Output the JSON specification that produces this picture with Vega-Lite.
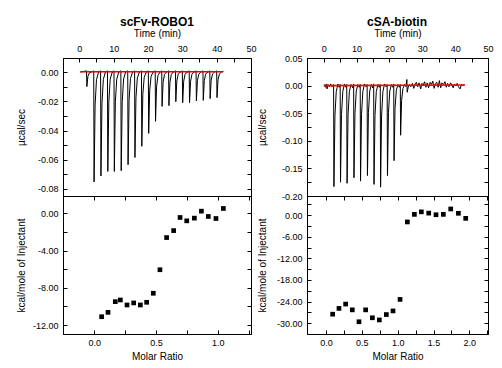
{
  "$schema": "https://vega.github.io/schema/vega-lite/v6.json",
  "background": "white",
  "padding": {"left": 15, "top": 15, "right": 5, "bottom": 2},
  "config": {
    "font": "Liberation Sans",
    "view": {"stroke": "black", "strokeWidth": 1},
    "axis": {
      "grid": false, "domainColor": "black", "tickColor": "black", "labelColor": "black", "titleColor": "black",
      "labelFont": "Liberation Sans", "titleFont": "Liberation Sans", "labelFontSize": 9, "titleFontSize": 10,
      "titleFontWeight": "normal", "tickSize": -4, "labelPadding": 9, "minExtent": 0, "labelFlush": false, "labelOverlap": false
    },
    "title": {"font": "Liberation Sans", "fontSize": 12, "fontWeight": "bold", "color": "black", "anchor": "middle"}
  },
  "datasets": {
    "rawL": [
      {"t":0.3,"v":0},{"t":2.1,"v":0.0008},{"t":2.2,"v":-0.010},{"t":2.5,"v":-0.003},{"t":2.9,"v":-0.0007},{"t":3.5,"v":0},
      {"t":4.2,"v":0.0008},{"t":4.3,"v":-0.0752},{"t":4.6,"v":-0.0226},{"t":5.0,"v":-0.0053},{"t":5.6,"v":0},
      {"t":6.2,"v":0.0008},{"t":6.3,"v":-0.0711},{"t":6.6,"v":-0.0213},{"t":7.0,"v":-0.005},{"t":7.6,"v":0},
      {"t":8.2,"v":0.0008},{"t":8.3,"v":-0.068},{"t":8.6,"v":-0.0204},{"t":9.0,"v":-0.0048},{"t":9.6,"v":0},
      {"t":10.1,"v":0.0008},{"t":10.2,"v":-0.068},{"t":10.5,"v":-0.0204},{"t":10.9,"v":-0.0048},{"t":11.5,"v":0},
      {"t":12.1,"v":0.0008},{"t":12.2,"v":-0.0675},{"t":12.5,"v":-0.0203},{"t":12.9,"v":-0.0047},{"t":13.5,"v":0},
      {"t":14.1,"v":0.0008},{"t":14.2,"v":-0.0634},{"t":14.5,"v":-0.019},{"t":14.9,"v":-0.0044},{"t":15.5,"v":0},
      {"t":16.1,"v":0.0008},{"t":16.2,"v":-0.0585},{"t":16.5,"v":-0.0176},{"t":16.9,"v":-0.0041},{"t":17.5,"v":0},
      {"t":18.1,"v":0.0008},{"t":18.2,"v":-0.0508},{"t":18.5,"v":-0.0152},{"t":18.9,"v":-0.0036},{"t":19.5,"v":0},
      {"t":20.1,"v":0.0008},{"t":20.2,"v":-0.042},{"t":20.5,"v":-0.0126},{"t":20.9,"v":-0.0029},{"t":21.5,"v":0},
      {"t":22.1,"v":0.0008},{"t":22.2,"v":-0.0337},{"t":22.5,"v":-0.0101},{"t":22.9,"v":-0.0024},{"t":23.5,"v":0},
      {"t":24.0,"v":0.0008},{"t":24.1,"v":-0.0235},{"t":24.4,"v":-0.0071},{"t":24.8,"v":-0.0016},{"t":25.4,"v":0},
      {"t":26.0,"v":0.0008},{"t":26.1,"v":-0.023},{"t":26.4,"v":-0.0069},{"t":26.8,"v":-0.0016},{"t":27.4,"v":0},
      {"t":28.0,"v":0.0008},{"t":28.1,"v":-0.0203},{"t":28.4,"v":-0.0061},{"t":28.8,"v":-0.0014},{"t":29.4,"v":0},
      {"t":30.0,"v":0.0008},{"t":30.1,"v":-0.021},{"t":30.4,"v":-0.0063},{"t":30.8,"v":-0.0015},{"t":31.4,"v":0},
      {"t":32.0,"v":0.0008},{"t":32.1,"v":-0.021},{"t":32.4,"v":-0.0063},{"t":32.8,"v":-0.0015},{"t":33.4,"v":0},
      {"t":34.0,"v":0.0008},{"t":34.1,"v":-0.0197},{"t":34.4,"v":-0.0059},{"t":34.8,"v":-0.0014},{"t":35.4,"v":0},
      {"t":36.0,"v":0.0008},{"t":36.1,"v":-0.0194},{"t":36.4,"v":-0.0058},{"t":36.8,"v":-0.0014},{"t":37.4,"v":0},
      {"t":38.0,"v":0.0008},{"t":38.1,"v":-0.0182},{"t":38.4,"v":-0.0055},{"t":38.8,"v":-0.0013},{"t":39.4,"v":0},
      {"t":40.0,"v":0.0008},{"t":40.1,"v":-0.0175},{"t":40.4,"v":-0.0053},{"t":40.8,"v":-0.0012},{"t":41.4,"v":0},
      {"t":42.0,"v":0.0005}
    ],
    "fitL": [{"t":0.3,"v":0.0002},{"t":41.8,"v":0.0002}],
    "rawR": [
      {"t":0.2,"v":0.002},{"t":0.5,"v":-0.003},{"t":0.8,"v":0.003},{"t":1.0,"v":-0.006},{"t":1.3,"v":0.002},{"t":1.7,"v":-0.002},{"t":2.1,"v":0.003},{"t":2.5,"v":-0.002},
      {"t":3.0,"v":0.002},{"t":3.1,"v":-0.183},{"t":3.4,"v":-0.055},{"t":3.8,"v":-0.011},{"t":4.3,"v":0.003},{"t":4.7,"v":-0.003},
      {"t":5.0,"v":0.002},{"t":5.1,"v":-0.175},{"t":5.4,"v":-0.0525},{"t":5.8,"v":-0.0105},{"t":6.3,"v":0.003},{"t":6.7,"v":-0.003},
      {"t":7.0,"v":0.002},{"t":7.1,"v":-0.177},{"t":7.4,"v":-0.053},{"t":7.8,"v":-0.0106},{"t":8.3,"v":0.002},{"t":8.8,"v":-0.004},
      {"t":9.1,"v":0.003},{"t":9.2,"v":-0.167},{"t":9.5,"v":-0.05},{"t":9.9,"v":-0.01},{"t":10.4,"v":0.002},{"t":10.8,"v":-0.003},
      {"t":11.1,"v":0.002},{"t":11.2,"v":-0.173},{"t":11.5,"v":-0.052},{"t":11.9,"v":-0.0104},{"t":12.4,"v":0.003},{"t":12.9,"v":-0.002},
      {"t":13.2,"v":0.002},{"t":13.3,"v":-0.163},{"t":13.6,"v":-0.049},{"t":14.0,"v":-0.0098},{"t":14.5,"v":0.002},{"t":14.9,"v":-0.004},
      {"t":15.2,"v":0.003},{"t":15.3,"v":-0.179},{"t":15.6,"v":-0.0537},{"t":16.0,"v":-0.0107},{"t":16.5,"v":0.002},{"t":16.9,"v":-0.003},
      {"t":17.2,"v":0.002},{"t":17.3,"v":-0.184},{"t":17.6,"v":-0.055},{"t":18.0,"v":-0.011},{"t":18.5,"v":0.003},{"t":19.0,"v":-0.002},
      {"t":19.3,"v":0.002},{"t":19.4,"v":-0.163},{"t":19.7,"v":-0.049},{"t":20.1,"v":-0.0098},{"t":20.6,"v":0.002},{"t":21.0,"v":-0.003},
      {"t":21.3,"v":0.003},{"t":21.4,"v":-0.136},{"t":21.7,"v":-0.041},{"t":22.1,"v":-0.0082},{"t":22.6,"v":0.002},{"t":23.0,"v":-0.003},
      {"t":23.3,"v":0.002},{"t":23.4,"v":-0.090},{"t":23.7,"v":-0.027},{"t":24.1,"v":-0.0054},{"t":24.6,"v":0.002},{"t":25.0,"v":-0.002},
      {"t":25.3,"v":0.011},{"t":25.4,"v":-0.012},{"t":25.7,"v":-0.003},{"t":26.1,"v":0.002},
      {"t":26.5,"v":-0.002},{"t":27.0,"v":0.004},{"t":27.4,"v":-0.005},{"t":27.8,"v":0.003},{"t":28.2,"v":0.006},{"t":28.6,"v":-0.002},
      {"t":29.0,"v":0.005},{"t":29.5,"v":-0.006},{"t":29.9,"v":0.004},{"t":30.3,"v":0.001},{"t":30.7,"v":0.007},{"t":31.1,"v":-0.003},
      {"t":31.5,"v":0.005},{"t":31.9,"v":-0.004},{"t":32.4,"v":0.006},{"t":32.8,"v":0.002},{"t":33.2,"v":0.008},{"t":33.6,"v":-0.005},
      {"t":34.0,"v":0.004},{"t":34.4,"v":0.006},{"t":34.8,"v":-0.003},{"t":35.2,"v":0.009},{"t":35.6,"v":-0.004},{"t":36.0,"v":0.005},
      {"t":36.5,"v":0.002},{"t":36.9,"v":0.007},{"t":37.3,"v":-0.003},{"t":37.7,"v":0.004},{"t":38.1,"v":-0.002},{"t":38.6,"v":0.005},
      {"t":39.0,"v":0.001},{"t":39.4,"v":-0.004},{"t":39.8,"v":0.003},{"t":40.2,"v":0.0},{"t":40.6,"v":0.004},{"t":41.0,"v":-0.002},
      {"t":41.5,"v":-0.006},{"t":41.9,"v":0.002},{"t":42.3,"v":0.0},{"t":42.8,"v":0.002}
    ],
    "fitR": [{"t":0.0,"v":0.0},{"t":43.0,"v":0.001}],
    "intL": [
      {"x":0.059,"y":-11.1},{"x":0.111,"y":-10.63},{"x":0.170,"y":-9.48},{"x":0.211,"y":-9.3},{"x":0.265,"y":-9.84},
      {"x":0.319,"y":-9.62},{"x":0.373,"y":-9.84},{"x":0.424,"y":-9.55},{"x":0.478,"y":-8.58},{"x":0.532,"y":-6.05},
      {"x":0.586,"y":-2.59},{"x":0.643,"y":-1.84},{"x":0.695,"y":-0.43},{"x":0.749,"y":-0.79},{"x":0.811,"y":-0.5},
      {"x":0.868,"y":0.25},{"x":0.924,"y":-0.32},{"x":0.986,"y":-0.54},{"x":1.046,"y":0.54}
    ],
    "intR": [
      {"x":0.093,"y":-27.5},{"x":0.181,"y":-25.9},{"x":0.274,"y":-24.7},{"x":0.367,"y":-26.3},{"x":0.460,"y":-29.6},
      {"x":0.553,"y":-26.3},{"x":0.647,"y":-28.5},{"x":0.744,"y":-29.1},{"x":0.842,"y":-27.6},{"x":0.935,"y":-26.6},
      {"x":1.033,"y":-23.4},{"x":1.135,"y":-1.9},{"x":1.233,"y":0.2},{"x":1.330,"y":0.9},{"x":1.433,"y":0.55},
      {"x":1.535,"y":0.1},{"x":1.637,"y":0.2},{"x":1.740,"y":1.7},{"x":1.847,"y":0.5},{"x":1.949,"y":-0.9}
    ]
  },
  "spacing": -1,
  "hconcat": [
    {
      "title": {"text": "scFv-ROBO1", "offset": -1, "dx": 21},
      "spacing": 0,
      "bounds": "flush",
      "vconcat": [
        {
          "width": 188, "height": 138,
          "resolve": {"scale": {"x": "independent", "y": "independent"}},
          "layer": [
            {
              "data": {"name": "rawL"},
              "mark": {"type": "line", "color": "black", "strokeWidth": 1},
              "encoding": {
                "x": {"field": "t", "type": "quantitative", "scale": {"domain": [-4.75, 50], "nice": false, "zero": false},
                  "axis": {"orient": "top", "title": "Time (min)", "values": [0,5,10,15,20,25,30,35,40,45,50], "labelOverlap": false,
                    "labelExpr": "datum.value % 10 === 0 ? datum.label : ''", "format": "d", "titleY": -25, "titleBaseline": "middle"}},
                "y": {"field": "v", "type": "quantitative", "scale": {"domain": [-0.0848, 0.0096], "nice": false, "zero": false},
                  "axis": {"title": "µcal/sec", "values": [0,-0.01,-0.02,-0.03,-0.04,-0.05,-0.06,-0.07,-0.08], "labelOverlap": false,
                    "labelExpr": "abs(datum.value*50 - round(datum.value*50)) < 1e-6 ? replace(format(datum.value, '.2f'), '\u2212', '-') : ''",
                    "titleX": -42, "titleBaseline": "middle"}}
              }
            },
            {
              "data": {"name": "fitL"},
              "mark": {"type": "line", "color": "#e00000", "strokeWidth": 1.6},
              "encoding": {
                "x": {"field": "t", "type": "quantitative", "scale": {"domain": [-4.75, 50], "nice": false, "zero": false}, "axis": null},
                "y": {"field": "v", "type": "quantitative", "scale": {"domain": [-0.0848, 0.0096], "nice": false, "zero": false},
                  "axis": {"orient": "right", "title": null, "labels": false, "values": [0,-0.01,-0.02,-0.03,-0.04,-0.05,-0.06,-0.07,-0.08]}}
              }
            }
          ]
        },
        {
          "width": 188, "height": 138,
          "resolve": {"scale": {"x": "independent", "y": "independent"}},
          "layer": [
            {
              "data": {"name": "intL"},
              "mark": {"type": "point", "shape": "square", "filled": true, "color": "black", "size": 22, "opacity": 1},
              "encoding": {
                "x": {"field": "x", "type": "quantitative", "scale": {"domain": [-0.254, 1.27], "nice": false, "zero": false},
                  "axis": {"orient": "bottom", "title": "Molar Ratio", "values": [0,0.25,0.5,0.75,1,1.25], "labelOverlap": false, "labelPadding": 8,
                    "labelExpr": "abs(datum.value*2 - round(datum.value*2)) < 1e-6 ? format(datum.value, '.1f') : ''", "titleY": 22, "titleBaseline": "middle"}},
                "y": {"field": "y", "type": "quantitative", "scale": {"domain": [-12.96, 1.88], "nice": false, "zero": false},
                  "axis": {"title": "kcal/mole of Injectant", "values": [0,-2,-4,-6,-8,-10,-12], "labelOverlap": false,
                    "labelExpr": "datum.value % 4 === 0 ? replace(format(datum.value, '.2f'), '\u2212', '-') : ''",
                    "titleX": -42, "titleBaseline": "middle"}}
              }
            },
            {
              "data": {"name": "intL"},
              "mark": {"type": "point", "opacity": 0},
              "encoding": {
                "x": {"field": "x", "type": "quantitative", "scale": {"domain": [-0.254, 1.27], "nice": false, "zero": false},
                  "axis": {"orient": "top", "title": null, "labels": false, "values": [0,0.25,0.5,0.75,1,1.25]}},
                "y": {"field": "y", "type": "quantitative", "scale": {"domain": [-12.96, 1.88], "nice": false, "zero": false},
                  "axis": {"orient": "right", "title": null, "labels": false, "values": [0,-2,-4,-6,-8,-10,-12]}}
              }
            }
          ]
        }
      ]
    },
    {
      "title": {"text": "cSA-biotin", "offset": -1, "dx": 22},
      "spacing": 0,
      "bounds": "flush",
      "vconcat": [
        {
          "width": 181, "height": 138,
          "resolve": {"scale": {"x": "independent", "y": "independent"}},
          "layer": [
            {
              "data": {"name": "rawR"},
              "mark": {"type": "line", "color": "black", "strokeWidth": 1},
              "encoding": {
                "x": {"field": "t", "type": "quantitative", "scale": {"domain": [-5.1, 50], "nice": false, "zero": false},
                  "axis": {"orient": "top", "title": "Time (min)", "values": [0,5,10,15,20,25,30,35,40,45,50], "labelOverlap": false,
                    "labelExpr": "datum.value % 10 === 0 ? datum.label : ''", "format": "d", "titleY": -25, "titleBaseline": "middle"}},
                "y": {"field": "v", "type": "quantitative", "scale": {"domain": [-0.2, 0.05], "nice": false, "zero": false},
                  "axis": {"title": "µcal/sec", "values": [0.05,0.025,0,-0.025,-0.05,-0.075,-0.1,-0.125,-0.15,-0.175,-0.2], "labelOverlap": false,
                    "labelExpr": "abs(datum.value*20 - round(datum.value*20)) < 1e-6 ? replace(format(datum.value, '.2f'), '\u2212', '-') : ''",
                    "titleX": -45, "titleBaseline": "middle"}}
              }
            },
            {
              "data": {"name": "fitR"},
              "mark": {"type": "line", "color": "#ff0000", "strokeWidth": 1.6},
              "encoding": {
                "x": {"field": "t", "type": "quantitative", "scale": {"domain": [-5.1, 50], "nice": false, "zero": false}, "axis": null},
                "y": {"field": "v", "type": "quantitative", "scale": {"domain": [-0.2, 0.05], "nice": false, "zero": false},
                  "axis": {"orient": "right", "title": null, "labels": false, "values": [0.05,0.025,0,-0.025,-0.05,-0.075,-0.1,-0.125,-0.15,-0.175,-0.2]}}
              }
            }
          ]
        },
        {
          "width": 181, "height": 138,
          "resolve": {"scale": {"x": "independent", "y": "independent"}},
          "layer": [
            {
              "data": {"name": "intR"},
              "mark": {"type": "point", "shape": "square", "filled": true, "color": "black", "size": 22, "opacity": 1},
              "encoding": {
                "x": {"field": "x", "type": "quantitative", "scale": {"domain": [-0.265, 2.26], "nice": false, "zero": false},
                  "axis": {"orient": "bottom", "title": "Molar Ratio", "values": [0,0.25,0.5,0.75,1,1.25,1.5,1.75,2,2.25], "labelOverlap": false, "labelPadding": 8,
                    "labelExpr": "abs(datum.value*2 - round(datum.value*2)) < 1e-6 ? format(datum.value, '.1f') : ''", "titleY": 22, "titleBaseline": "middle"}},
                "y": {"field": "y", "type": "quantitative", "scale": {"domain": [-33, 5.3], "nice": false, "zero": false},
                  "axis": {"title": "kcal/mole of Injectant", "values": [3,0,-3,-6,-9,-12,-15,-18,-21,-24,-27,-30], "labelOverlap": false,
                    "labelExpr": "datum.value % 6 === 0 ? replace(format(datum.value, '.2f'), '\u2212', '-') : ''",
                    "titleX": -45, "titleBaseline": "middle"}}
              }
            },
            {
              "data": {"name": "intR"},
              "mark": {"type": "point", "opacity": 0},
              "encoding": {
                "x": {"field": "x", "type": "quantitative", "scale": {"domain": [-0.265, 2.26], "nice": false, "zero": false},
                  "axis": {"orient": "top", "title": null, "labels": false, "values": [0,0.25,0.5,0.75,1,1.25,1.5,1.75,2,2.25]}},
                "y": {"field": "y", "type": "quantitative", "scale": {"domain": [-33, 5.3], "nice": false, "zero": false},
                  "axis": {"orient": "right", "title": null, "labels": false, "values": [3,0,-3,-6,-9,-12,-15,-18,-21,-24,-27,-30]}}
              }
            }
          ]
        }
      ]
    }
  ]
}
